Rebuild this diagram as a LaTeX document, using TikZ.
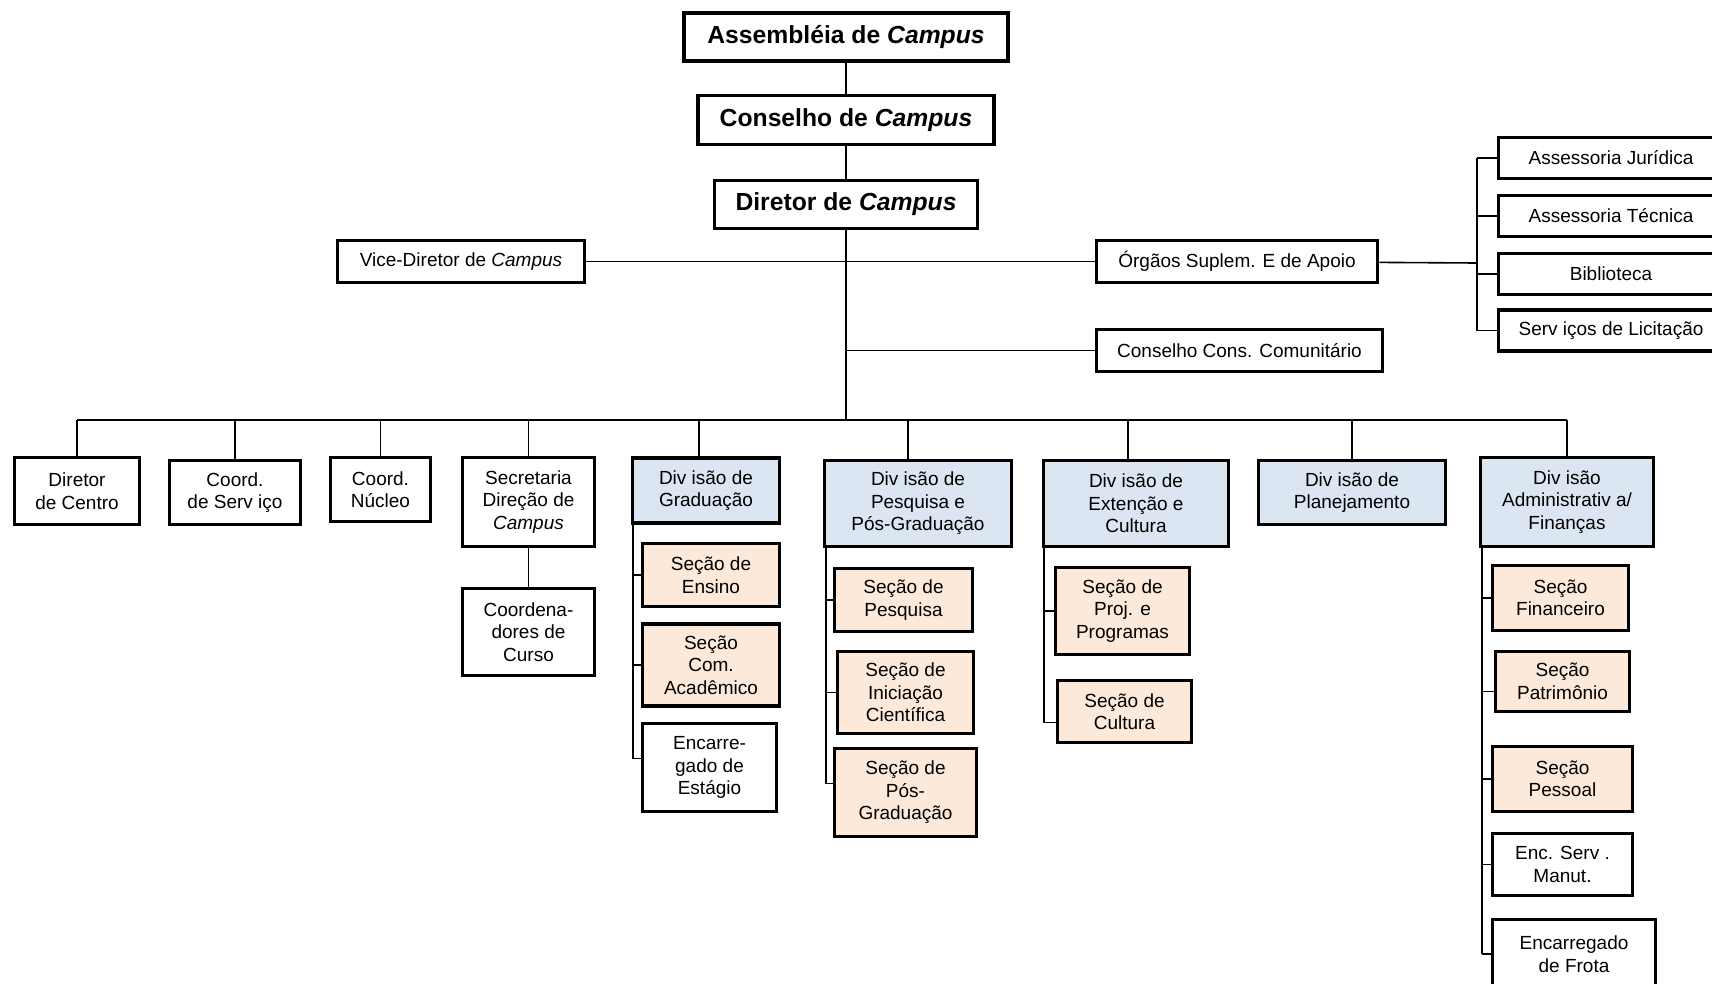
\documentclass[tikz,border=0pt]{standalone}
\usepackage{fontspec}
\setmainfont{Liberation Sans}
\usetikzlibrary{calc}

\definecolor{divblue}{HTML}{DCE6F2}
\definecolor{secpeach}{HTML}{FDE9D9}

\begin{document}
\begin{tikzpicture}
      [x = 1pt, y = -1pt,
      box/.style= {
         draw,
         line width = 3.5pt,
         align = center,
         inner sep = 0pt,
         font = \fontsize{19}{22.5}\selectfont
      },
      head/.style= {
         box,
         font = \fontsize{24.7}{30}\selectfont\bfseries
      },
      div/.style= {box, fill = divblue},
      sec/.style= {box, fill = secpeach},
      link/.style= {line width = 1.6pt}]

      \useasboundingbox (0, 0) rectangle (1712, 983);

      % top of the chart
      \node[head, minimum width = 324, minimum height = 48] (asm) at (846, 37) {Assembléia de \textit{Campus}};
      \node[head, minimum width = 296, minimum height = 49] (cons) at (846, 120) {Conselho de \textit{Campus}};
      \node[head, minimum width = 263, minimum height = 48] (dir) at (846, 204.5) {Diretor de \textit{Campus}};

      \node[box, minimum width = 247, minimum height = 42] (vice) at (461, 261.5) {Vice-Diretor de \textit{Campus}};
      \node[box, minimum width = 281, minimum height = 42] (orgaos) at (1237, 261.5) {Órgãos Suplem. E de Apoio};
      \node[box, minimum width = 286, minimum height = 42] (ccc) at (1239.5, 350.5) {Conselho Cons. Comunitário};

      \node[box, minimum width = 225, minimum height = 41] (jur) at (1611, 158) {Assessoria Jurídica};
      \node[box, minimum width = 225, minimum height = 41] (tec) at (1611, 216) {Assessoria Técnica};
      \node[box, minimum width = 225, minimum height = 41] (bib) at (1611, 274) {Biblioteca};
      \node[box, minimum width = 225, minimum height = 41] (lic) at (1611, 330.5) {Serv iços de Licitação};

      \coordinate (trunk) at (846, 420);
      \coordinate (orgbar) at (1477, 263);

      \draw[link] (asm) -- (cons);
      \draw[link] (cons) -- (dir);
      \draw[link] (dir) -- (trunk);
      \draw[link] (vice) -- (orgaos);
      \draw[link] (ccc) -- (ccc -| trunk);
      \draw[link] (orgaos) -- (orgbar);
      \draw[link] (jur -| orgbar) -- (lic -| orgbar);
      \draw[link] (jur) -- (jur -| orgbar);
      \draw[link] (tec) -- (tec -| orgbar);
      \draw[link] (bib) -- (bib -| orgbar);
      \draw[link] (lic) -- (lic -| orgbar);

      % row of units
      \node[box, minimum width = 125, minimum height = 67] (dc) at (77, 491) {Diretor\\de Centro};
      \node[box, minimum width = 131, minimum height = 64] (cs) at (235, 492.5) {Coord.\\de Serv iço};
      \node[box, minimum width = 100, minimum height = 64] (cn) at (380.5, 489.5) {Coord.\\Núcleo};
      \node[box, minimum width = 132, minimum height = 89] (secr) at (528.5, 502) {Secretaria\\Direção de\\\textit{Campus}};
      \node[box, minimum width = 132, minimum height = 87] (coo) at (528.5, 632) {Coordena-\\dores de\\Curso};
      \node[div, minimum width = 147, minimum height = 65] (dg) at (706, 490.5) {Div isão de\\Graduação};
      \node[div, minimum width = 187, minimum height = 86] (dp) at (918, 503.5) {Div isão de\\Pesquisa e\\Pós-Graduação};
      \node[div, minimum width = 185, minimum height = 86] (de) at (1136, 503.5) {Div isão de\\Extenção e\\Cultura};
      \node[div, minimum width = 187, minimum height = 64] (dpl) at (1352, 492.5) {Div isão de\\Planejamento};
      \node[div, minimum width = 173, minimum height = 89] (da) at (1567, 502) {Div isão\\Administrativ a/\\Finanças};

      \coordinate (dgtop) at ([xshift = -7pt]dg.north);
      \coordinate (dptop) at ([xshift = -10pt]dp.north);
      \coordinate (detop) at ([xshift = -8pt]de.north);

      \draw[link] (dc.north |- trunk) -- (da.north |- trunk);
      \draw[link] (dc) -- (dc |- trunk);
      \draw[link] (cs) -- (cs |- trunk);
      \draw[link] (cn) -- (cn |- trunk);
      \draw[link] (secr) -- (secr |- trunk);
      \draw[link] (secr) -- (coo);
      \draw[link] (dgtop) -- (dgtop |- trunk);
      \draw[link] (dptop) -- (dptop |- trunk);
      \draw[link] (detop) -- (detop |- trunk);
      \draw[link] (dpl) -- (dpl |- trunk);
      \draw[link] (da) -- (da |- trunk);

      % sections under each division
      \node[sec, minimum width = 137, minimum height = 63] (ens) at (711, 575) {Seção de\\Ensino};
      \node[sec, minimum width = 137, minimum height = 82] (aca) at (711, 665) {Seção\\Com.\\Acadêmico};
      \node[box, minimum width = 134, minimum height = 88] (est) at (709.5, 767.5) {Encarre-\\gado de\\Estágio};

      \node[sec, minimum width = 138, minimum height = 63] (spq) at (903.5, 600) {Seção de\\Pesquisa};
      \node[sec, minimum width = 136, minimum height = 82] (sic) at (905.5, 692.5) {Seção de\\Iniciação\\Científica};
      \node[sec, minimum width = 142, minimum height = 88] (spg) at (905.5, 792.5) {Seção de\\Pós-\\Graduação};

      \node[sec, minimum width = 134, minimum height = 87] (spp) at (1122.5, 611) {Seção de\\Proj. e\\Programas};
      \node[sec, minimum width = 134, minimum height = 62] (scu) at (1124.5, 711.5) {Seção de\\Cultura};

      \node[sec, minimum width = 136, minimum height = 65] (sfi) at (1560.5, 598) {Seção\\Financeiro};
      \node[sec, minimum width = 134, minimum height = 60] (spa) at (1562.5, 681.5) {Seção\\Patrimônio};
      \node[sec, minimum width = 140, minimum height = 65] (spe) at (1562.5, 779) {Seção\\Pessoal};
      \node[box, minimum width = 140, minimum height = 62] (sem) at (1562.5, 864.5) {Enc. Serv .\\Manut.};
      \node[box, minimum width = 163, minimum height = 69] (sfr) at (1574, 954) {Encarregado\\de Frota};

      \coordinate (gbar) at (633, 0);
      \coordinate (pbar) at (826, 0);
      \coordinate (ebar) at (1044, 0);
      \coordinate (abar) at (1482, 0);
      \coordinate (estin) at ([yshift = 9pt]est.west);
      \coordinate (spgin) at ([yshift = 9pt]spg.west);
      \coordinate (scuin) at ([yshift = -11pt]scu.west);
      \coordinate (spain) at ([yshift = -10pt]spa.west);

      \draw[link] (gbar |- dg.south) -- (gbar |- estin);
      \draw[link] (ens) -- (ens -| gbar);
      \draw[link] (aca) -- (aca -| gbar);
      \draw[link] (estin) -- (estin -| gbar);

      \draw[link] (pbar |- dp.south) -- (pbar |- spgin);
      \draw[link] (spq) -- (spq -| pbar);
      \draw[link] (sic) -- (sic -| pbar);
      \draw[link] (spgin) -- (spgin -| pbar);

      \draw[link] (ebar |- de.south) -- (ebar |- scuin);
      \draw[link] (spp) -- (spp -| ebar);
      \draw[link] (scuin) -- (scuin -| ebar);

      \draw[link] (abar |- da.south) -- (abar |- sfr.west);
      \draw[link] (sfi) -- (sfi -| abar);
      \draw[link] (spain) -- (spain -| abar);
      \draw[link] (spe) -- (spe -| abar);
      \draw[link] (sem) -- (sem -| abar);
      \draw[link] (sfr) -- (sfr -| abar);

   \end{tikzpicture}
\end{document}
